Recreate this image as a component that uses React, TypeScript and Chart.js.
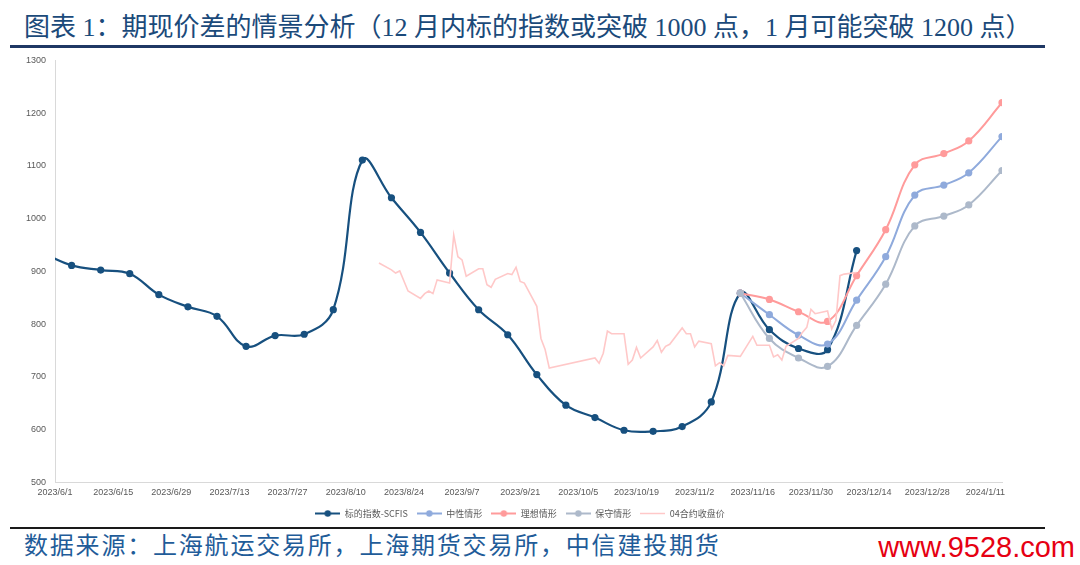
import React, { useEffect, useRef } from 'react';
import { Chart, registerables } from 'chart.js';

Chart.register(...registerables);

// ---------- data ----------
const xTickLabels = [
  '2023/6/1', '2023/6/15', '2023/6/29', '2023/7/13', '2023/7/27', '2023/8/10', '2023/8/24',
  '2023/9/7', '2023/9/21', '2023/10/5', '2023/10/19', '2023/11/2', '2023/11/16', '2023/11/30',
  '2023/12/14', '2023/12/28', '2024/1/11',
];
const xMinDate = '2023/6/1';
const xMaxDate = '2024/1/15';
const yMin = 500;
const yMax = 1300;
const yStep = 100;

const seriesNames = ['标的指数-SCFIS', '中性情形', '理想情形', '保守情形', '04合约收盘价'];

const scfisDates = [
  '2023/5/29', '2023/6/5', '2023/6/12', '2023/6/19', '2023/6/26', '2023/7/3', '2023/7/10',
  '2023/7/17', '2023/7/24', '2023/7/31', '2023/8/7', '2023/8/14', '2023/8/21', '2023/8/28',
  '2023/9/4', '2023/9/11', '2023/9/18', '2023/9/25', '2023/10/2', '2023/10/9', '2023/10/16',
  '2023/10/23', '2023/10/30', '2023/11/6', '2023/11/13', '2023/11/20', '2023/11/27', '2023/12/4',
  '2023/12/11',
];
const scfisValues = [
  935, 911.5, 902.6, 895.7, 856, 833, 815, 758, 778.5, 781, 827.6, 1111, 1039.7, 974,
  897, 827.4, 780, 704.5, 646.5, 623, 599, 597, 606, 652.7, 858.8, 789.6, 754, 751.8, 939.5,
];

const scenarioDates = [
  '2023/11/13', '2023/11/20', '2023/11/27', '2023/12/4', '2023/12/11', '2023/12/18',
  '2023/12/25', '2024/1/1', '2024/1/7', '2024/1/15',
];
const neutralValues = [858.8, 818, 779.4, 762.4, 845.6, 928, 1044.8, 1063.7, 1087, 1155.6];
const idealValues = [858.8, 846.9, 823.6, 805.3, 892, 979.2, 1102, 1123.4, 1147.4, 1219.8];
const conservativeValues = [858.8, 773, 736, 720, 797.7, 875.8, 986.2, 1005, 1026, 1091.3];

const futDates = [
  '2023/8/18', '2023/8/21', '2023/8/22', '2023/8/23', '2023/8/25', '2023/8/28', '2023/8/29',
  '2023/8/30', '2023/8/31', '2023/9/1', '2023/9/4', '2023/9/5', '2023/9/6', '2023/9/7',
  '2023/9/8', '2023/9/11', '2023/9/12', '2023/9/13', '2023/9/14', '2023/9/15', '2023/9/18',
  '2023/9/19', '2023/9/20', '2023/9/21', '2023/9/22', '2023/9/25', '2023/9/26', '2023/9/27',
  '2023/9/28', '2023/10/9', '2023/10/10', '2023/10/11', '2023/10/12', '2023/10/13', '2023/10/16',
  '2023/10/17', '2023/10/18', '2023/10/19', '2023/10/20', '2023/10/23', '2023/10/24', '2023/10/25',
  '2023/10/26', '2023/10/27', '2023/10/30', '2023/10/31', '2023/11/1', '2023/11/2', '2023/11/3',
  '2023/11/6', '2023/11/7', '2023/11/8', '2023/11/9', '2023/11/10', '2023/11/13', '2023/11/16',
  '2023/11/17', '2023/11/20', '2023/11/21', '2023/11/22', '2023/11/23', '2023/11/24', '2023/11/27',
  '2023/11/28', '2023/11/29', '2023/11/30', '2023/12/1', '2023/12/4', '2023/12/5', '2023/12/6',
  '2023/12/7', '2023/12/8', '2023/12/11',
];
const futValues = [
  916, 903, 897, 901, 863, 849, 858,
  863, 858, 884, 878, 969, 928, 922,
  891, 905, 905, 875, 870, 885, 896,
  894, 908, 881, 878, 834, 773, 752,
  717, 736, 726, 745, 787, 782, 782,
  724, 732, 756, 736, 757, 769, 747,
  758, 762, 793, 782, 782, 757, 768,
  763, 721, 727, 721, 741, 739, 777,
  760, 760, 738, 742, 732, 758, 773,
  785, 794, 828, 820, 825, 791, 807,
  892, 895, 898,
];

// ---------- helpers ----------
const BASE = Date.UTC(2023, 5, 1);
const dayOf = (s: string) => {
  const [y, m, d] = s.split('/').map(Number);
  return Math.round((Date.UTC(y, m - 1, d) - BASE) / 86400000);
};
const toPoints = (dates: string[], vals: number[]) => dates.map((d, i) => ({ x: dayOf(d), y: vals[i] }));

const COL_SCFIS = '#17507F';
const COL_NEUTRAL = '#8FAADC';
const COL_IDEAL = '#FF9B9B';
const COL_CONS = '#ADB9CA';
const COL_FUT = '#FFC8C8';
const TICK_COLOR = '#595959';
const TICK_FONT = '"Liberation Sans", "Noto Sans CJK SC", sans-serif';

function legendSymbol(color: string, withDot: boolean, lw: number) {
  const c = document.createElement('canvas');
  c.width = 25;
  c.height = 9;
  const g = c.getContext('2d')!;
  g.strokeStyle = color;
  g.lineWidth = lw;
  g.beginPath();
  g.moveTo(0, 4.5);
  g.lineTo(25, 4.5);
  g.stroke();
  if (withDot) {
    g.fillStyle = color;
    g.beginPath();
    g.arc(12.5, 4.5, 3.2, 0, Math.PI * 2);
    g.fill();
  }
  return c;
}

function App() {
  const canvasRef = useRef<HTMLCanvasElement | null>(null);

  useEffect(() => {
    const canvas = canvasRef.current;
    if (!canvas) return;
    const labelByDay: Record<number, string> = {};
    xTickLabels.forEach((l) => { labelByDay[dayOf(l)] = l; });
    const colors = [COL_SCFIS, COL_NEUTRAL, COL_IDEAL, COL_CONS, COL_FUT];

    const chart = new Chart(canvas, {
      type: 'line',
      data: {
        datasets: [
          {
            label: seriesNames[0],
            data: toPoints(scfisDates, scfisValues),
            borderColor: COL_SCFIS,
            backgroundColor: COL_SCFIS,
            borderWidth: 2.2,
            tension: 0.4,
            pointRadius: (ctx: any) => (ctx.dataIndex === 0 ? 0 : 3.6),
            pointBorderWidth: 0,
            pointBackgroundColor: COL_SCFIS,
            order: 4,
          },
          {
            label: seriesNames[1],
            data: toPoints(scenarioDates, neutralValues),
            borderColor: COL_NEUTRAL,
            backgroundColor: COL_NEUTRAL,
            borderWidth: 2,
            tension: 0.4,
            pointRadius: 3.6,
            pointBorderWidth: 0,
            pointBackgroundColor: COL_NEUTRAL,
            order: 3,
          },
          {
            label: seriesNames[2],
            data: toPoints(scenarioDates, idealValues),
            borderColor: COL_IDEAL,
            backgroundColor: COL_IDEAL,
            borderWidth: 2,
            tension: 0.4,
            pointRadius: 3.6,
            pointBorderWidth: 0,
            pointBackgroundColor: COL_IDEAL,
            order: 2,
          },
          {
            label: seriesNames[3],
            data: toPoints(scenarioDates, conservativeValues),
            borderColor: COL_CONS,
            backgroundColor: COL_CONS,
            borderWidth: 2,
            tension: 0.4,
            pointRadius: 3.6,
            pointBorderWidth: 0,
            pointBackgroundColor: COL_CONS,
            order: 1,
          },
          {
            label: seriesNames[4],
            data: toPoints(futDates, futValues),
            borderColor: COL_FUT,
            backgroundColor: COL_FUT,
            borderWidth: 1.6,
            tension: 0,
            pointRadius: 0,
            order: 0,
          },
        ],
      },
      options: {
        animation: false,
        responsive: false,
        devicePixelRatio: 1,
        layout: { padding: { top: 5, right: 40, bottom: 0, left: 0 } },
        scales: {
          x: {
            type: 'linear',
            min: dayOf(xMinDate),
            max: dayOf(xMaxDate),
            grid: { display: false, drawTicks: false },
            border: { display: true, color: '#D9D9D9', width: 1 },
            ticks: {
              autoSkip: false,
              maxRotation: 0,
              minRotation: 0,
              padding: 5,
              color: TICK_COLOR,
              font: { size: 9, family: TICK_FONT },
              callback: (v: any) => labelByDay[Number(v)] ?? '',
            },
            afterBuildTicks: (s: any) => {
              s.ticks = xTickLabels.map((l) => ({ value: dayOf(l) }));
            },
            afterFit: (s: any) => { s.height = 17.5; },
          },
          y: {
            min: yMin,
            max: yMax,
            grid: { display: false, drawTicks: false },
            border: { display: true, color: '#D9D9D9', width: 1 },
            ticks: {
              stepSize: yStep,
              padding: 9,
              color: TICK_COLOR,
              font: { size: 9, family: TICK_FONT },
              callback: (v: any) => String(v),
            },
            afterFit: (s: any) => { s.width = 55; },
          },
          yRight: {
            position: 'right',
            display: true,
            grid: { display: false, drawTicks: false },
            border: { display: false },
            ticks: { display: false },
            afterFit: (s: any) => { s.width = 38; },
          },
        },
        plugins: {
          tooltip: { enabled: false },
          legend: {
            position: 'bottom',
            labels: {
              usePointStyle: true,
              pointStyleWidth: 25,
              padding: 9,
              color: TICK_COLOR,
              font: { size: 9, family: '"Noto Sans CJK SC", sans-serif' },
              generateLabels: () =>
                seriesNames.map((name, i) => ({
                  text: name,
                  datasetIndex: i,
                  fillStyle: colors[i],
                  strokeStyle: colors[i],
                  lineWidth: 0,
                  hidden: false,
                  fontColor: TICK_COLOR,
                  pointStyle: legendSymbol(colors[i], i < 4, i === 4 ? 1.5 : 2),
                })),
            },
          },
        },
      },
    } as any);
    return () => chart.destroy();
  }, []);

  return (
    <div style={{ position: 'absolute', left: 0, top: 0, width: 1080, height: 565, background: '#fff', overflow: 'hidden' }}>
      <div
        style={{
          position: 'absolute', left: 24, top: 14, fontSize: 26, lineHeight: '28px', whiteSpace: 'nowrap',
          color: '#1B4A7A', fontFamily: '"Liberation Serif", "Noto Sans CJK SC", serif',
        }}
      >
        图表 1：期现价差的情景分析（12 月内标的指数或突破 1000 点，1 月可能突破 1200 点）
      </div>
      <div style={{ position: 'absolute', left: 10, top: 45, width: 1035, height: 3, background: '#1F3864' }} />
      <div style={{ position: 'absolute', left: 0, top: 46, width: 1080, height: 482 }}>
        <canvas ref={canvasRef} width={1080} height={482} style={{ display: 'block' }} />
      </div>
      <div style={{ position: 'absolute', left: 10, top: 527, width: 1035, height: 1.5, background: '#1a1a1a' }} />
      <div
        style={{
          position: 'absolute', left: 24, top: 532, fontSize: 24, lineHeight: '28px', letterSpacing: 1.8,
          whiteSpace: 'nowrap', color: '#1F5C99', fontFamily: '"Liberation Serif", "Noto Sans CJK SC", serif',
        }}
      >
        数据来源：上海航运交易所，上海期货交易所，中信建投期货
      </div>
      <div
        style={{
          position: 'absolute', right: 5, top: 531, fontSize: 29, lineHeight: '32px', whiteSpace: 'nowrap',
          color: '#E60012', fontFamily: '"Liberation Sans", Arial, sans-serif',
        }}
      >
        www.9528.com
      </div>
    </div>
  );
}

export default App;
